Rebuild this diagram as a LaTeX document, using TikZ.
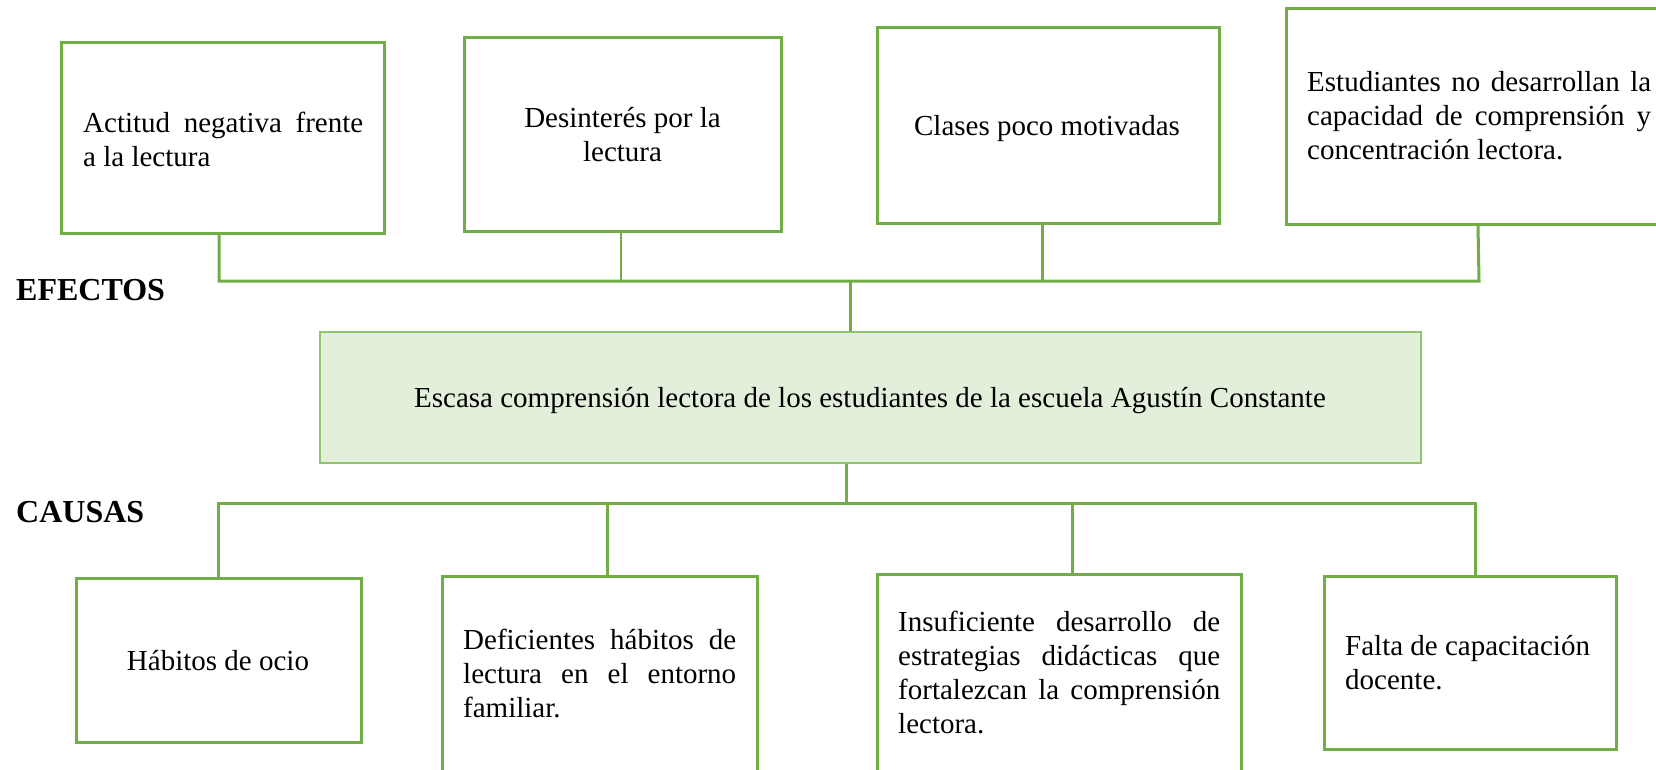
\documentclass[tikz,border=0pt]{standalone}
\usepackage{fontspec}
\setmainfont{Liberation Serif}
\definecolor{grn}{HTML}{70AD47}
\definecolor{lgrn}{HTML}{8FC36E}
\definecolor{cfill}{HTML}{E2EFDA}
\newcommand{\jline}[2]{\makebox[#1pt][s]{#2}}
\begin{document}
\begin{tikzpicture}[x=1pt,y=-1pt,
  box/.style={draw=grn,line width=3pt,rectangle,inner sep=0pt},
  conn/.style={draw=grn,line width=3pt},
  thinconn/.style={draw=grn,line width=1.3pt},
  txt/.style={inner sep=0pt,font=\fontsize{29}{34}\selectfont,align=left},
  ctxt/.style={inner sep=0pt,font=\fontsize{29}{34}\selectfont,align=center,anchor=base},
  head/.style={inner sep=0pt,font=\fontsize{32}{36}\selectfont\bfseries,anchor=base west}]
\useasboundingbox (0,0) rectangle (1656,769);
% effect boxes
\node[box,minimum width=323,minimum height=191] (b1) at (222.5,137.5) {};
\node[box,minimum width=317,minimum height=194] (b2) at (622.5,134) {};
\node[box,minimum width=342,minimum height=196] (b3) at (1048,125) {};
\node[box,minimum width=385,minimum height=216] (b4) at (1478.5,116) {};
% central problem
\node[draw=lgrn,line width=1.6pt,fill=cfill,minimum width=1101,minimum height=131,inner sep=0pt] (c) at (870.5,397.5) {};
% cause boxes
\node[box,minimum width=285,minimum height=164] (b5) at (218.5,660) {};
\node[box,minimum width=315,minimum height=205] (b6) at (599.5,678.5) {};
\node[box,minimum width=364,minimum height=207] (b7) at (1059,677.5) {};
\node[box,minimum width=292,minimum height=173] (b8) at (1470,662.5) {};
% texts (base anchor = last line baseline)
\node[txt,anchor=base west] (t1) at (83,166) {\jline{280}{Actitud negativa frente}\\a la lectura};
\node[ctxt] (t2) at (622.5,161) {Desinterés por la\\lectura};
\node[ctxt] (t3) at (1047,135) {Clases poco motivadas};
\node[txt,anchor=base west] (t4) at (1307,159) {\jline{344}{Estudiantes no desarrollan la}\\\jline{344}{capacidad de comprensión y}\\concentración lectora.};
\node[ctxt] (tc) at (870,407) {Escasa comprensión lectora de los estudiantes de la escuela Agustín Constante};
\node[ctxt] (t5) at (218,670) {Hábitos de ocio};
\node[txt,anchor=base west] (t6) at (463,717) {\jline{273}{Deficientes hábitos de}\\\jline{273}{lectura en el entorno}\\familiar.};
\node[txt,anchor=base west] (t7) at (898,733) {\jline{322}{Insuficiente desarrollo de}\\\jline{322}{estrategias didácticas que}\\\jline{322}{fortalezcan la comprensión}\\lectora.};
\node[txt,anchor=base west] (t8) at (1345,689) {Falta de capacitación\\docente.};
\node[head] (ef) at (16,300) {EFECTOS};
\node[head] (ca) at (16,522) {CAUSAS};
% connectors (effects)
\coordinate (topbar) at (0,281);
\coordinate (botbar) at (0,503);
\draw[conn] ([xshift=-3.5pt]b1.south) -- ([xshift=-3.5pt]b1.south |- topbar) -- ([xshift=0.5pt]b4.south |- topbar) -- ([xshift=-0.5pt]b4.south);
\draw[thinconn] ([xshift=-1.5pt]b2.south) -- ([xshift=-1.5pt]b2.south |- topbar);
\draw[conn] ([xshift=-6pt]b3.south) -- ([xshift=-6pt]b3.south |- topbar);
\draw[conn] ([xshift=-20.5pt]c.north |- topbar) -- ([xshift=-20.5pt]c.north);
% connectors (causes)
\draw[conn] ([xshift=-24.5pt]c.south) -- ([xshift=-24.5pt]c.south |- botbar);
\draw[conn] ([xshift=-0.5pt]b5.north) -- ([xshift=-0.5pt]b5.north |- botbar) -- ([xshift=5pt]b8.north |- botbar) -- ([xshift=5pt]b8.north);
\draw[conn] ([xshift=7.5pt]b6.north) -- ([xshift=7.5pt]b6.north |- botbar);
\draw[conn] ([xshift=13pt]b7.north) -- ([xshift=13pt]b7.north |- botbar);
\end{tikzpicture}
\end{document}
